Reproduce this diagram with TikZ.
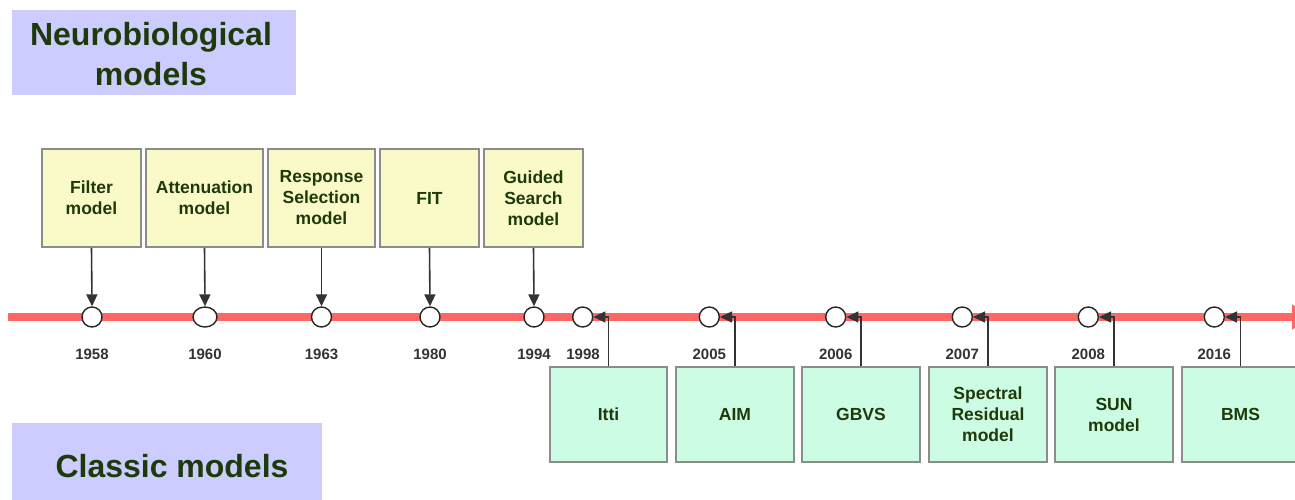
\documentclass[tikz,border=0pt]{standalone}
\usepackage{fontspec}
\setmainfont{Liberation Sans}
\usetikzlibrary{arrows.meta,shapes.geometric}
\definecolor{tred}{HTML}{FF6666}
\definecolor{yel}{HTML}{FAFAC8}
\definecolor{grn}{HTML}{CCFCE4}
\definecolor{hblue}{HTML}{CCCCFF}
\definecolor{txtgreen}{HTML}{1F3A0A}
\definecolor{boxgray}{HTML}{8C8C8C}
\definecolor{arr}{HTML}{333333}
\begin{document}
\begin{tikzpicture}[x=1pt,y=-1pt,
  hdrbox/.style={fill=hblue, draw=none, inner sep=0pt},
  hdrtext/.style={text=txtgreen, font=\fontsize{32}{40}\selectfont\bfseries, align=center, inner sep=0pt},
  ybox/.style={draw=boxgray, line width=1.5pt, fill=yel, minimum height=98pt, align=center,
     font=\fontsize{17.5}{21}\selectfont\bfseries, text=txtgreen, inner sep=2pt},
  gbox/.style={draw=boxgray, line width=1.5pt, fill=grn, minimum height=95pt, align=center,
     font=\fontsize{17.5}{21}\selectfont\bfseries, text=txtgreen, inner sep=2pt},
  dot/.style={circle, draw=black!85, line width=1.4pt, fill=white, minimum size=20pt, inner sep=0pt},
  yr/.style={text=arr, font=\fontsize{15}{15}\selectfont\bfseries, inner sep=0pt},
  conn/.style={draw=arr, line width=1.6pt, -{Triangle[length=12pt,width=11pt]}},
]
\useasboundingbox (0,0) rectangle (1295,499);
\clip (0,0) rectangle (1295,499);

% header boxes
\node[hdrbox, minimum width=284pt, minimum height=85pt] (hb1) at (154,52.5) {};
\node[hdrtext] (ht1) at (151,54) {Neurobiological\\models};
\node[hdrbox, minimum width=310pt, minimum height=84pt] (hb2) at (167,465) {};
\node[hdrtext] (ht2) at (172,466) {Classic models};

% timeline
\coordinate (tl0) at (8,317);
\coordinate (tl1) at (1312,317);
\draw[tred, line width=7.5pt, -{Triangle[length=20pt,width=24pt]}] (tl0) -- (tl1);

% circles
\node[dot] (c1) at (92,317) {};
\node[dot, ellipse, minimum width=24pt, minimum height=20pt] (c2) at (205,317) {};
\node[dot] (c3) at (321.5,317) {};
\node[dot] (c4) at (430,317) {};
\node[dot] (c5) at (534,317) {};
\node[dot] (c6) at (582.7,317) {};
\node[dot] (c7) at (709.3,317) {};
\node[dot] (c8) at (835.7,317) {};
\node[dot] (c9) at (962.3,317) {};
\node[dot] (c10) at (1088.3,317) {};
\node[dot] (c11) at (1214.3,317) {};

% years
\node[yr] (y1) at (92,354) {1958};
\node[yr] (y2) at (205,354) {1960};
\node[yr] (y3) at (321.5,354) {1963};
\node[yr] (y4) at (430,354) {1980};
\node[yr] (y5) at (534,354) {1994};
\node[yr] (y6) at (583,354) {1998};
\node[yr] (y7) at (709.3,354) {2005};
\node[yr] (y8) at (835.7,354) {2006};
\node[yr] (y9) at (962.3,354) {2007};
\node[yr] (y10) at (1088.3,354) {2008};
\node[yr] (y11) at (1214.3,354) {2016};

% yellow boxes
\node[ybox, minimum width=99pt] (b1) at (91.5,198) {Filter\\model};
\node[ybox, minimum width=117pt] (b2) at (204.5,198) {Attenuation\\model};
\node[ybox, minimum width=107pt] (b3) at (321.5,198) {Response\\Selection\\model};
\node[ybox, minimum width=99pt] (b4) at (429.5,198) {FIT};
\node[ybox, minimum width=99pt] (b5) at (533.5,198) {Guided\\Search\\model};

\draw[conn] (b1.south) -- (c1.north);
\draw[conn] (b2.south) -- (c2.north);
\draw[conn] (b3.south) -- (c3.north);
\draw[conn] (b4.south) -- (c4.north);
\draw[conn] (b5.south) -- (c5.north);

% green boxes
\node[gbox, minimum width=117pt] (g1) at (608.5,414.5) {Itti};
\node[gbox, minimum width=118pt] (g2) at (735,414.5) {AIM};
\node[gbox, minimum width=118pt] (g3) at (861,414.5) {GBVS};
\node[gbox, minimum width=118pt] (g4) at (988,414.5) {Spectral\\Residual\\model};
\node[gbox, minimum width=118pt] (g5) at (1114,414.5) {SUN\\model};
\node[gbox, minimum width=117pt] (g6) at (1240.5,414.5) {BMS};

\draw[conn] (g1.north) |- (c6.east);
\draw[conn] (g2.north) |- (c7.east);
\draw[conn] (g3.north) |- (c8.east);
\draw[conn] (g4.north) |- (c9.east);
\draw[conn] (g5.north) |- (c10.east);
\draw[conn] (g6.north) |- (c11.east);
\end{tikzpicture}
\end{document}
